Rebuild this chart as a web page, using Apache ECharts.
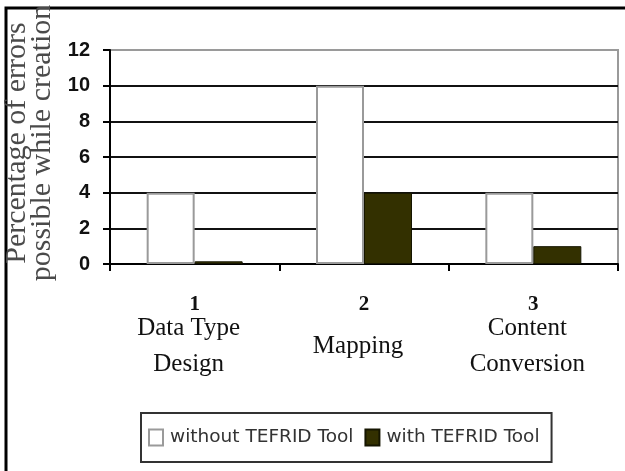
<!DOCTYPE html>
<html>
<head>
<meta charset="utf-8">
<script src="https://cdn.jsdelivr.net/npm/echarts@6/dist/echarts.min.js"></script>
<style>
  html, body { margin: 0; padding: 0; background: #fff; }
  #chart { width: 625px; height: 471px; }
</style>
</head>
<body>
<div id="chart"></div>
<script>
// Error rates per creation step, with and without the TEFRID tool
const stepNumbers = ['1', '2', '3'];
const stepNames = [['Data Type', 'Design'], ['Mapping'], ['Content', 'Conversion']];
const withoutTool = [4, 10, 4];
const withTool = [0.15, 4, 1];
const yTicks = { min: 0, max: 12, interval: 2 };
const yTitle = ['Percentage of errors', 'possible while creation'];
const seriesNames = ['without TEFRID Tool', 'with TEFRID Tool'];

const chart = echarts.init(document.getElementById('chart'), null, { renderer: 'canvas' });

function stepLabel(value, idx) {
  const names = stepNames[idx];
  if (names.length === 1) return '{n|' + value + '}\n{m|' + names[0] + '}';
  return '{n|' + value + '}\n' + names.map(s => '{t|' + s + '}').join('\n');
}

chart.setOption({
  animation: false,
  backgroundColor: '#fff',
  graphic: [
    { type: 'polyline', shape: { points: [[6, 471], [6, 8], [625, 8]] },
      style: { stroke: '#000', lineWidth: 3, fill: null } }
  ],
  grid: {
    left: 110, top: 50, right: 7, bottom: 207,
    outerBoundsMode: 'none',
    containLabel: false,
    show: true, borderColor: '#9a9a9a', borderWidth: 2, backgroundColor: 'transparent'
  },
  legend: {
    left: 141, top: 413,
    icon: 'rect',
    itemWidth: 14, itemHeight: 16, itemGap: 11,
    padding: [15, 12, 15, 7],
    borderColor: '#333', borderWidth: 2,
    textStyle: { fontFamily: 'DejaVu Sans', fontSize: 18.5, color: '#333', padding: [0, 0, 0, 2] },
    data: seriesNames
  },
  xAxis: {
    type: 'category',
    data: stepNumbers,
    axisLine: { lineStyle: { color: '#000', width: 2 } },
    axisTick: { show: true, length: 7, lineStyle: { color: '#000', width: 2 } },
    axisLabel: {
      margin: 36,
      interval: 0,
      formatter: stepLabel,
      rich: {
        n: { fontFamily: 'Liberation Serif', fontSize: 21, fontWeight: 'bold', lineHeight: 10, color: '#111' },
        t: { fontFamily: 'Liberation Serif', fontSize: 25, lineHeight: 36, color: '#111', padding: [0, 12, 0, 0] },
        m: { fontFamily: 'Liberation Serif', fontSize: 25, lineHeight: 72, color: '#111', padding: [0, 12, 0, 0] }
      }
    }
  },
  yAxis: {
    type: 'value',
    min: yTicks.min, max: yTicks.max, interval: yTicks.interval,
    name: yTitle.join('\n'),
    nameLocation: 'middle',
    nameRotate: 90,
    nameGap: 55,
    nameTextStyle: {
      fontFamily: 'Liberation Serif', fontSize: 30, lineHeight: 25, color: '#4a4a4a',
      padding: [0, 0, 0, 28]
    },
    axisLine: { show: true, lineStyle: { color: '#000', width: 2 } },
    axisTick: { show: true, length: 7, lineStyle: { color: '#000', width: 2 } },
    axisLabel: {
      margin: 20,
      fontFamily: 'Liberation Sans', fontWeight: 'bold', fontSize: 20, color: '#111'
    },
    splitLine: {
      show: true, showMinLine: false, showMaxLine: false,
      lineStyle: { color: '#111', width: 2 }
    }
  },
  series: [
    {
      name: seriesNames[0], type: 'bar', data: withoutTool,
      barWidth: 48, barGap: '0%',
      itemStyle: { color: '#fff', borderColor: '#9a9a9a', borderWidth: 2 }
    },
    {
      name: seriesNames[1], type: 'bar', data: withTool,
      barWidth: 48, barGap: '0%',
      itemStyle: { color: '#333000', borderColor: '#151500', borderWidth: 1 }
    }
  ]
});
</script>
</body>
</html>
